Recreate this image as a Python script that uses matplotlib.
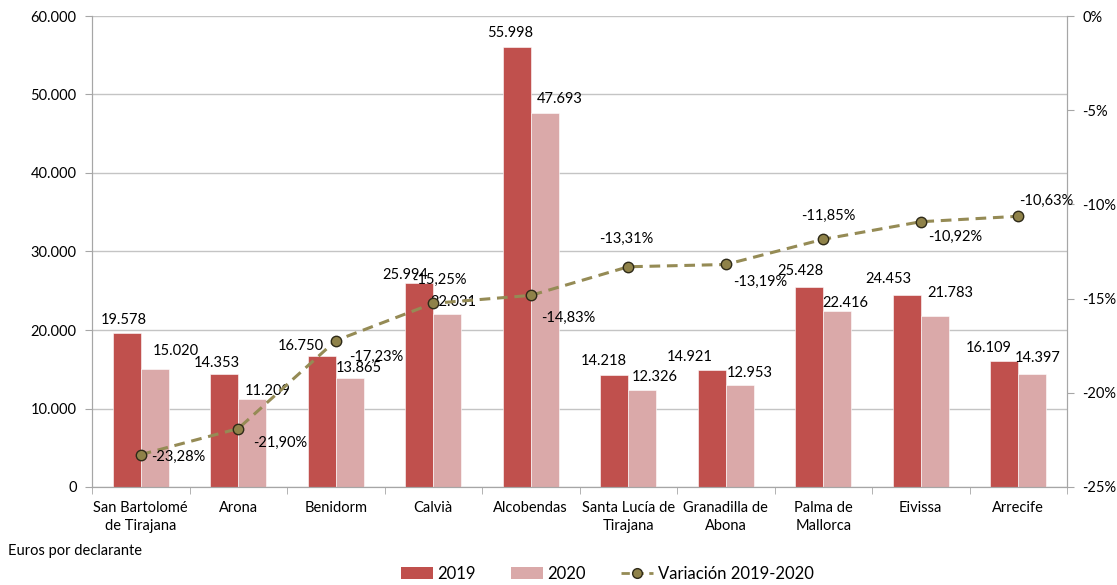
import numpy as np
import matplotlib.pyplot as plt
from matplotlib.lines import Line2D
from matplotlib.patches import Patch

plt.rcParams['font.family'] = ['Lato', 'DejaVu Sans']

# ── data ───────────────────────────────────────────
municipios = ["San Bartolomé\nde Tirajana", "Arona", "Benidorm", "Calvià", "Alcobendas",
              "Santa Lucía de\nTirajana", "Granadilla de\nAbona", "Palma de\nMallorca",
              "Eivissa", "Arrecife"]
renta_2019 = [19578, 14353, 16750, 25994, 55998, 14218, 14921, 25428, 24453, 16109]
renta_2020 = [15020, 11209, 13865, 22031, 47693, 12326, 12953, 22416, 21783, 14397]
variacion = [-23.28, -21.90, -17.23, -15.25, -14.83, -13.31, -13.19, -11.85, -10.92, -10.63]

# label nudges in pixels (as placed in the original chart)
lab19_dx = [-3, -8, -21, -14, -7, -11, -22, -9, -18, -16]
lab19_dy = [13, 11, 10, 8, 14, 14, 13, 16, 16, 13]
lab20_dx = [21, 16, 9, 6, 15, 13, 10, 8, 16, 6]
lab20_dy = [18, 8, 10, 12, 14, 13, 12, 8, 23, 16]
var_dx = [38, 42, 41, 6, 37, -2, 34, 5, 34, 28]
var_dy = [-2, -14, -16, 23, -22, 28, -17, 23, -15, 15]

C19 = "#C0504D"
C20 = "#DAA9A9"
CLINE = "#958B55"
CGRID = "#C4C4C4"
CAXIS = "#A6A6A6"

fig = plt.figure(figsize=(11.17, 5.85), dpi=100)
ax = fig.add_axes([92/1117, 1 - 487/585, (1067 - 92)/1117, (487 - 16)/585])

x = np.arange(len(municipios))
w = 0.285
ax.bar(x - w/2, renta_2019, w, color=C19, edgecolor="white", linewidth=0.4, zorder=2)
ax.bar(x + w/2, renta_2020, w, color=C20, edgecolor="white", linewidth=0.4, zorder=2)

fmt_miles = lambda v: f"{v:,}".replace(",", ".")
for i in range(len(x)):
    ax.annotate(fmt_miles(renta_2019[i]), (x[i] - w/2, renta_2019[i]),
                xytext=(lab19_dx[i], lab19_dy[i]), textcoords="offset pixels",
                ha="center", va="center", fontsize=10.5, color="black", zorder=3)
    ax.annotate(fmt_miles(renta_2020[i]), (x[i] + w/2, renta_2020[i]),
                xytext=(lab20_dx[i], lab20_dy[i]), textcoords="offset pixels",
                ha="center", va="center", fontsize=10.5, color="black", zorder=3)

ax.set_xlim(-0.5, len(x) - 0.5)
ax.set_ylim(0, 60000)
ax.set_yticks(np.arange(0, 60001, 10000))
ax.set_yticklabels([fmt_miles(v) for v in range(0, 60001, 10000)], fontsize=10.5)
ax.yaxis.grid(True, color=CGRID, linewidth=1)
ax.set_axisbelow(True)

ax.set_xticks(x)
ax.set_xticklabels(municipios, fontsize=10.5, linespacing=1.35)
ax.set_xticks(np.arange(-0.5, len(x)), minor=True)
ax.tick_params(axis="x", which="major", length=0, pad=10)
ax.tick_params(axis="x", which="minor", length=5, color=CAXIS, direction="out")
ax.tick_params(axis="y", length=5, color=CAXIS, pad=6)

ax.spines["top"].set_visible(False)
for s in ["left", "bottom", "right"]:
    ax.spines[s].set_color(CAXIS)

# ── variación on right axis ────────────────────────
ax2 = ax.twinx()
ax2.plot(x, variacion, linestyle=(0, (3.5, 2.2)), color=CLINE, linewidth=2.2,
         marker="o", markersize=7.5, markerfacecolor="#8F8249",
         markeredgecolor="#2E2A18", markeredgewidth=1, zorder=4)
for i in range(len(x)):
    ax2.annotate(f"{variacion[i]:.2f}".replace(".", ",") + "%", (x[i], variacion[i]),
                 xytext=(var_dx[i], var_dy[i]), textcoords="offset pixels",
                 ha="center", va="center", fontsize=10.5, color="black",
                 zorder=5, annotation_clip=False)
ax2.set_ylim(-25, 0)
ax2.set_yticks(np.arange(-25, 1, 5))
ax2.set_yticklabels([f"{v}%" for v in range(-25, 1, 5)], fontsize=10.5)
ax2.tick_params(axis="y", length=5, color=CAXIS, pad=6)
ax2.spines["top"].set_visible(False)
for s in ["left", "bottom", "right"]:
    ax2.spines[s].set_color(CAXIS)

fig.text(8/1117, 1 - 551/585, "Euros por declarante", fontsize=10.5, va="center", ha="left")

handles = [Patch(facecolor=C19, edgecolor="none"),
           Patch(facecolor=C20, edgecolor="none"),
           Line2D([], [], linestyle=(0, (3, 2)), color=CLINE, linewidth=2,
                  marker="o", markersize=7, markerfacecolor="#8F8249",
                  markeredgecolor="#2E2A18", markeredgewidth=1)]
fig.legend(handles, ["2019", "2020", "Variación 2019-2020"], loc="center",
           bbox_to_anchor=(607/1117, 1 - 574/585), ncol=3, frameon=False,
           fontsize=12, handlelength=1.95, handleheight=0.75, handletextpad=0.25,
           columnspacing=2.1, borderaxespad=0)

fig.savefig("out.png", dpi=100)
